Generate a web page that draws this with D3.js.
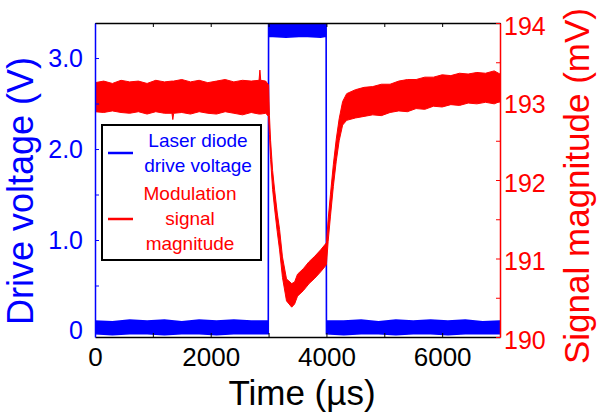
<!DOCTYPE html>
<html>
<head>
<meta charset="utf-8">
<script src="https://cdnjs.cloudflare.com/ajax/libs/d3/7.8.5/d3.min.js"></script>
<style>
  body { margin: 0; background: #fff; }
  text { font-family: "Liberation Sans", Arial, sans-serif; }
</style>
</head>
<body>
<div id="chart"></div>
<script>
// chart values
var xTickValues = [0, 1000, 2000, 3000, 4000, 5000, 6000, 7000];
var xTickLabels = { 0: "0", 2000: "2000", 4000: "4000", 6000: "6000" };
var leftTickValues = [0, 0.5, 1, 1.5, 2, 2.5, 3];
var leftTickLabels = { 0: "0", 1: "1.0", 2: "2.0", 3: "3.0" };
var rightTickValues = [190, 190.5, 191, 191.5, 192, 192.5, 193, 193.5, 194];
var rightTickLabels = { 190: "190", 191: "191", 192: "192", 193: "193", 194: "194" };

// laser diode drive voltage (V): time, lower and upper edge of the noise band
var blueTime = [0, 300, 600, 900, 1200, 1500, 1800, 2100, 2400, 2700, 2995,
  3000, 3300, 3600, 3900, 3995,
  4000, 4300, 4600, 4900, 5200, 5500, 5800, 6100, 6400, 6700, 7000];
var blueLo = [-0.03, -0.04, -0.03, -0.03, -0.04, -0.03, -0.03, -0.04, -0.03, -0.03, -0.03,
  3.24, 3.23, 3.24, 3.23, 3.24,
  -0.03, -0.04, -0.03, -0.03, -0.04, -0.03, -0.03, -0.04, -0.03, -0.03, -0.03];
var blueHi = [0.11, 0.10, 0.12, 0.11, 0.12, 0.10, 0.12, 0.11, 0.12, 0.11, 0.11,
  3.45, 3.45, 3.45, 3.45, 3.45,
  0.11, 0.11, 0.12, 0.10, 0.12, 0.11, 0.12, 0.11, 0.12, 0.10, 0.11];

// modulation signal magnitude (mV): time, lower and upper edge of the noise band
var redTime = [0, 150, 300, 450, 600, 750, 900, 1050, 1200, 1330, 1345, 1360, 1500, 1650, 1800, 1950,
  2100, 2250, 2400, 2550, 2700, 2835, 2850, 2865, 2950, 3000,
  3015, 3035, 3070, 3105, 3150, 3190, 3240, 3310, 3400, 3450, 3500, 3600, 3700, 3800, 3900, 4000,
  4030, 4070, 4120, 4170, 4220, 4280, 4350, 4500,
  4650, 4800, 4950, 5100, 5250, 5400, 5550, 5700, 5850, 6000, 6150, 6300, 6450, 6600, 6750, 6900, 7000];
var redLo = [192.87, 192.86, 192.88, 192.86, 192.85, 192.87, 192.84, 192.87, 192.85, 192.85, 192.77, 192.85,
  192.86, 192.84, 192.87, 192.85, 192.84, 192.87, 192.85, 192.83, 192.86, 192.84, 192.84, 192.84, 192.85, 192.81,
  192.58, 192.26, 191.88, 191.63, 191.34, 191.11, 190.76, 190.46, 190.38, 190.42, 190.52,
  190.59, 190.68, 190.75, 190.83, 190.92,
  191.22, 191.54, 191.92, 192.24, 192.50, 192.70, 192.76, 192.79,
  192.81, 192.83, 192.82, 192.86, 192.88, 192.87, 192.91, 192.90, 192.94, 192.93, 192.96,
  192.95, 192.98, 192.97, 192.99, 192.97, 193.00];
var redHi = [193.24, 193.26, 193.23, 193.27, 193.25, 193.26, 193.23, 193.27, 193.25, 193.26, 193.26, 193.26,
  193.28, 193.25, 193.27, 193.24, 193.26, 193.28, 193.25, 193.27, 193.26, 193.27, 193.40, 193.27, 193.26, 193.21,
  192.82, 192.50, 192.12, 191.87, 191.58, 191.37, 191.02, 190.74, 190.68, 190.70, 190.80,
  190.87, 190.96, 191.03, 191.11, 191.20,
  191.50, 191.82, 192.20, 192.52, 192.78, 193.00, 193.10, 193.15,
  193.18, 193.19, 193.22, 193.22, 193.26, 193.28, 193.28, 193.31, 193.31, 193.34, 193.33,
  193.36, 193.35, 193.37, 193.36, 193.39, 193.35];

var svgWidth = 604;
var svgHeight = 418;
var plot = { left: 95, right: 500, top: 23, bottom: 337 };

var svg = d3.select("#chart")
  .append("svg")
  .attr("width", svgWidth)
  .attr("height", svgHeight);

// scales
var xScale = d3.scaleLinear().domain([0, 7000]).range([plot.left, plot.right]);
var yLeft = d3.scaleLinear().domain([-0.066, 3.385]).range([plot.bottom, plot.top]);
var yRight = d3.scaleLinear().domain([190, 194]).range([plot.bottom, plot.top]);

svg.append("clipPath").attr("id", "plotClip")
  .append("rect")
  .attr("x", plot.left).attr("y", plot.top)
  .attr("width", plot.right - plot.left).attr("height", plot.bottom - plot.top);

var traces = svg.append("g").attr("clip-path", "url(#plotClip)");

// blue trace
var blueData = blueTime.map(function(t, i) { return { t: t, lo: blueLo[i], hi: blueHi[i] }; });
traces.append("path")
  .datum(blueData)
  .attr("fill", "#0000ff")
  .attr("stroke", "#0000ff")
  .attr("stroke-width", 1.6)
  .attr("d", d3.area()
    .x(d => xScale(d.t))
    .y0(d => yLeft(d.lo))
    .y1(d => yLeft(d.hi)));

// red trace (drawn on top)
var redData = redTime.map(function(t, i) { return { t: t, lo: redLo[i], hi: redHi[i] }; });
traces.append("path")
  .datum(redData)
  .attr("fill", "#ff0000")
  .attr("stroke", "#ff0000")
  .attr("stroke-width", 1)
  .attr("d", d3.area()
    .x(d => xScale(d.t))
    .y0(d => yRight(d.lo))
    .y1(d => yRight(d.hi)));

// top frame line with mirrored ticks
svg.append("g")
  .attr("transform", `translate(0, ${plot.top})`)
  .style("color", "#000")
  .call(d3.axisTop(xScale).tickValues(xTickValues).tickSize(-4).tickSizeOuter(0).tickFormat(""))
  .select(".domain").attr("stroke-width", 1.5);

// bottom axis
var bottomAxis = svg.append("g")
  .attr("transform", `translate(0, ${plot.bottom})`)
  .style("color", "#000")
  .call(d3.axisBottom(xScale).tickValues(xTickValues).tickSize(-4).tickSizeOuter(0)
    .tickPadding(11).tickFormat(d => xTickLabels[d] || ""));
bottomAxis.select(".domain").attr("stroke-width", 1.5);
bottomAxis.selectAll("text").style("font-size", "26px");

// left axis
var leftAxis = svg.append("g")
  .attr("transform", `translate(${plot.left}, 0)`)
  .style("color", "#0000ff")
  .call(d3.axisLeft(yLeft).tickValues(leftTickValues).tickSize(-4).tickSizeOuter(0)
    .tickPadding(12).tickFormat(d => leftTickLabels[d] || ""));
leftAxis.select(".domain").attr("stroke-width", 1.5);
leftAxis.selectAll("text").style("font-size", "25px");

// right axis
var rightAxis = svg.append("g")
  .attr("transform", `translate(${plot.right}, 0)`)
  .style("color", "#ff0000")
  .call(d3.axisRight(yRight).tickValues(rightTickValues).tickSize(-4).tickSizeOuter(0)
    .tickPadding(4).tickFormat(d => rightTickLabels[d] || ""));
rightAxis.select(".domain").attr("stroke-width", 1.5);
rightAxis.selectAll("text").style("font-size", "25px").attr("dy", "0.45em");

// axis titles
svg.append("text")
  .attr("transform", "translate(33, 191) rotate(-90)")
  .attr("text-anchor", "middle")
  .attr("fill", "#0000ff")
  .style("font-size", "36px")
  .text("Drive voltage (V)");

svg.append("text")
  .attr("transform", "translate(589, 186) rotate(-90)")
  .attr("text-anchor", "middle")
  .attr("fill", "#ff0000")
  .style("font-size", "35px")
  .text("Signal magnitude (mV)");

svg.append("text")
  .attr("x", 302)
  .attr("y", 405)
  .attr("text-anchor", "middle")
  .attr("fill", "#000")
  .style("font-size", "35px")
  .text("Time (µs)");

// legend
var legend = svg.append("g");
legend.append("rect")
  .attr("x", 102).attr("y", 125)
  .attr("width", 159).attr("height", 135)
  .attr("fill", "#fff")
  .attr("stroke", "#000")
  .attr("stroke-width", 2);

var legendItems = [
  { color: "#0000ff", lineY: 153, cx: 198, lines: ["Laser diode", "drive voltage"], y0: 147 },
  { color: "#ff0000", lineY: 219, cx: 190, lines: ["Modulation", "signal", "magnitude"], y0: 200 }
];

legendItems.forEach(function(item) {
  legend.append("line")
    .attr("x1", 108).attr("x2", 133)
    .attr("y1", item.lineY).attr("y2", item.lineY)
    .attr("stroke", item.color)
    .attr("stroke-width", 2.5);
  item.lines.forEach(function(s, i) {
    legend.append("text")
      .attr("x", item.cx)
      .attr("y", item.y0 + i * 25)
      .attr("text-anchor", "middle")
      .attr("fill", item.color)
      .style("font-size", "19px")
      .text(s);
  });
});
</script>
</body>
</html>
